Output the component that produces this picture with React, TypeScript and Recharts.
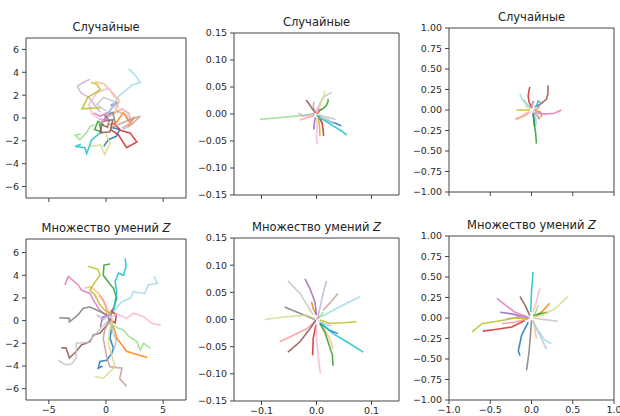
import React from 'react';
import { LineChart, Line, XAxis, YAxis, ReferenceArea } from 'recharts';

type Pt = [number, number];

// matplotlib tab20 cycle
const TAB20 = [
    '#1f77b4', '#aec7e8', '#ff7f0e', '#ffbb78', '#2ca02c', '#98df8a', '#d62728', '#ff9896', '#9467bd', '#c5b0d5',
    '#8c564b', '#c49c94', '#e377c2', '#f7b6d2', '#7f7f7f', '#c7c7c7', '#bcbd22', '#dbdb8d', '#17becf', '#9edae5',
];

const TITLE_RANDOM = 'Случайные';
const TITLE_SKILLS = 'Множество умений ';

// top-left: random policies, raw
const randomRaw: Pt[][] = [
    [[0.4, -0.8], [1.2, -1.0], [0.9, -1.6], [0.2, -1.9], [-0.2, -2.5]],
    [[0.2, 0.2], [0.9, 0.6], [1.8, 0.3], [2.2, -0.6], [1.5, -1.0]],
    [[0.3, -0.6], [0.9, -0.4], [1.5, 0.45], [2.0, -0.3], [2.5, 0.1], [1.9, -0.8]],
    [[-1.0, 3.2], [-0.2, 3.0], [0.4, 2.4], [1.2, 1.5], [0.8, 0.8], [1.6, 0.2]],
    [[-0.6, -0.5], [-0.4, -1.2], [-1.0, -1.0], [-0.7, -0.3], [-0.2, -0.6]],
    [[-1.0, -0.6], [-1.4, -0.75], [-1.7, -1.3], [-2.3, -1.9], [-2.7, -1.5], [-2.2, -1.4]],
    [[0.4, -1.0], [1.1, -1.5], [1.8, -2.6], [2.7, -2.1], [2.1, -1.3], [1.3, -1.1], [0.7, -0.5]],
    [[0.2, 0.1], [1.4, 0.8], [2.0, 0.4], [2.2, -0.4], [1.4, -0.9]],
    [[-0.3, -0.4], [0.1, 0.3], [0.6, 1.0], [1.0, 1.4], [0.4, 1.1]],
    [[-0.5, 0.5], [-1.5, 1.8], [-2.2, 2.2], [-2.5, 2.8], [-2.0, 3.1], [-1.4, 3.4]],
    [[-0.4, -0.3], [0.6, -0.15], [0.35, -1.2], [-0.5, -1.3], [-0.4, -0.6], [0.2, -0.8]],
    [[0.5, -0.8], [1.5, -0.4], [2.5, 0.0], [3.0, 0.15], [2.2, -0.6]],
    [[-1.1, 0.45], [-0.5, 0.15], [0.35, 0.6], [0.0, -0.2], [-0.6, -0.1]],
    [[-0.2, -0.3], [-1.2, 0.3], [-1.5, 1.2], [-0.8, 2.2], [0.2, 2.6], [0.8, 1.8]],
    [[0.1, -0.9], [0.3, -0.2], [-0.1, 0.2], [0.6, 0.5], [0.8, -0.4]],
    [[0.0, 0.6], [-0.8, 1.2], [-0.2, 1.8], [0.6, 1.5], [1.1, 0.9]],
    [[-0.5, 0.9], [-2.1, 0.8], [-1.6, 1.8], [-1.0, 2.15], [-0.5, 2.5], [-0.8, 2.95], [-1.3, 3.1]],
    [[-1.4, -2.5], [-0.5, -2.35], [-0.1, -3.2], [0.35, -2.2], [0.0, -1.4]],
    [[-0.5, -1.3], [-1.25, -1.9], [-1.7, -3.1], [-1.85, -2.6], [-2.7, -2.5], [-2.2, -2.3]],
    [[0.06, 0.2], [1.1, 1.9], [2.3, 2.9], [3.0, 3.1], [2.6, 3.7], [2.0, 4.3]],
];

// top-middle: random policies, small scale
const randomSmall: Pt[][] = [
    [[0.003, -0.004], [0.015, -0.01], [0.027, -0.015], [0.037, -0.018], [0.045, -0.022]],
    [[0.004, -0.002], [0.02, -0.006], [0.035, -0.01]],
    [[0.002, 0.0], [0.006, 0.007], [0.01, 0.01]],
    [[0.004, -0.003], [0.015, -0.008], [0.025, -0.012]],
    [[0.003, 0.005], [0.012, 0.01], [0.018, 0.016], [0.021, 0.023], [0.021, 0.028]],
    [[-0.003, 0.0], [-0.03, -0.003], [-0.06, -0.006], [-0.103, -0.01]],
    [[0.004, -0.006], [0.01, -0.016], [0.012, -0.028], [0.013, -0.041]],
    [[-0.004, -0.003], [-0.015, -0.006], [-0.03, -0.011]],
    [[-0.002, -0.006], [-0.004, -0.016], [-0.005, -0.029]],
    [[-0.004, 0.001], [-0.015, -0.002], [-0.025, -0.004], [-0.033, 0.002]],
    [[-0.002, 0.002], [-0.008, 0.01], [-0.013, 0.018], [-0.019, 0.026]],
    [[0.0, 0.002], [-0.006, 0.012], [-0.005, 0.022]],
    [[0.0, 0.0], [0.004, 0.006], [0.003, 0.012]],
    [[0.0, -0.008], [0.001, -0.025], [0.0, -0.04], [0.001, -0.056]],
    [[0.002, -0.003], [0.008, -0.01], [0.01, -0.018]],
    [[0.0, 0.006], [0.007, 0.022], [0.015, 0.033], [0.028, 0.04]],
    [[0.003, -0.006], [0.005, -0.02], [0.006, -0.03], [0.006, -0.041]],
    [[0.004, 0.01], [0.01, 0.025], [0.014, 0.035], [0.015, 0.043]],
    [[0.0, -0.002], [0.015, -0.012], [0.03, -0.022], [0.045, -0.031], [0.055, -0.039]],
    [[0.006, -0.005], [0.02, -0.012], [0.032, -0.018]],
];

// top-right: random policies, unit scale
const randomUnit: Pt[][] = [
    [[0.02, -0.04], [0.03, -0.12], [0.04, -0.2]],
    [[0.02, -0.03], [0.05, -0.1], [0.06, -0.18]],
    [[0.04, -0.01], [0.1, -0.02], [0.12, -0.05], [0.12, -0.09]],
    [[-0.03, -0.02], [-0.1, -0.06], [-0.18, -0.12]],
    [[0.02, -0.04], [0.03, -0.15], [0.05, -0.28], [0.06, -0.41]],
    [[-0.02, 0.03], [-0.06, 0.08], [-0.1, 0.13]],
    [[0.0, 0.03], [-0.03, 0.1], [-0.04, 0.17], [-0.03, 0.24], [-0.02, 0.28]],
    [[-0.03, -0.04], [-0.1, -0.08], [-0.2, -0.11]],
    [[0.0, 0.02], [0.01, 0.07], [0.02, 0.11]],
    [[0.0, 0.03], [0.02, 0.08], [0.03, 0.11]],
    [[0.06, 0.04], [0.12, 0.08], [0.18, 0.13], [0.2, 0.2], [0.2, 0.3]],
    [[0.03, 0.0], [0.08, 0.02], [0.1, 0.05]],
    [[0.04, -0.03], [0.16, -0.05], [0.28, -0.04], [0.36, 0.0]],
    [[0.0, -0.02], [-0.04, -0.04], [-0.08, -0.05]],
    [[0.03, -0.03], [0.07, -0.07], [0.1, -0.11]],
    [[0.02, -0.01], [0.06, -0.05], [0.09, -0.08]],
    [[-0.02, 0.0], [-0.1, 0.0], [-0.18, 0.0]],
    [[-0.01, 0.01], [-0.05, 0.03], [-0.08, 0.06]],
    [[0.04, 0.03], [0.07, 0.07], [0.08, 0.11], [0.11, 0.09]],
    [[-0.03, 0.04], [-0.08, 0.09], [-0.12, 0.14], [-0.14, 0.2]],
];

// bottom-left: skill set Z, raw
const skillsRaw: Pt[][] = [
    [[0.2, 0.3], [0.5, -0.6], [0.35, -1.56], [0.65, -2.44], [0.5, -2.9], [0.06, -3.5], [-0.53, -3.6], [-0.68, -4.2], [-0.3, -4.0]],
    [[0.35, -0.2], [0.6, -1.0], [0.9, -1.8], [0.7, -2.5]],
    [[0.3, 0.3], [0.8, -0.97], [0.94, -1.56], [1.4, -2.15], [1.8, -2.7], [2.4, -2.9], [3.6, -3.26]],
    [[0.3, 0.6], [0.1, 1.1], [-0.24, 1.8], [-0.53, 2.26], [-0.97, 2.7], [-1.4, 3.0], [-1.85, 2.85]],
    [[0.4, 0.4], [0.7, 1.2], [0.94, 2.0], [0.65, 2.85], [0.2, 3.4], [-0.24, 4.0], [-0.18, 4.9], [0.35, 5.0]],
    [[0.2, 0.1], [0.6, -0.4], [1.1, -0.68], [1.5, -0.82], [2.0, -1.4], [2.7, -1.85], [3.0, -2.6], [3.3, -2.0], [3.9, -2.44]],
    [[0.35, 0.1], [0.8, -0.2], [0.9, 0.5], [0.4, 0.9]],
    [[-0.6, 2.2], [-0.3, 1.9], [0.0, 1.2], [0.1, 0.3]],
    [[-0.5, -0.6], [-0.3, 0.3], [0.35, 0.5], [0.65, 1.1]],
    [[-0.8, 0.5], [-0.2, 0.1], [0.35, 0.7], [0.5, -0.3]],
    [[0.4, 0.2], [0.0, -0.5], [-0.53, -1.1], [-1.1, -1.26], [-1.4, -1.85], [-2.15, -2.15], [-2.6, -2.7], [-3.2, -3.3], [-3.5, -2.4], [-3.9, -2.4]],
    [[0.3, 0.0], [-0.1, -0.8], [-0.24, -1.56], [0.06, -3.2], [0.35, -4.06], [1.4, -4.2], [1.2, -5.1], [1.8, -5.8]],
    [[0.2, 0.3], [-0.6, 1.0], [-1.1, 1.8], [-1.4, 2.4], [-2.15, 2.7], [-2.44, 3.15], [-3.3, 3.9], [-3.6, 3.15]],
    [[0.3, 0.2], [1.0, 0.6], [1.8, 0.2], [2.4, 0.65], [3.3, 0.35], [4.0, -0.24], [4.8, -0.4]],
    [[0.1, 0.5], [-0.82, 0.94], [-1.4, 1.2], [-2.0, 1.1], [-2.44, 0.5], [-3.2, -0.1], [-3.2, 0.2], [-4.1, 0.26]],
    [[0.2, 0.0], [-0.4, -0.6], [-1.0, -1.3], [-1.6, -1.9], [-2.6, -2.0], [-2.6, -3.3], [-3.0, -3.8], [-3.5, -3.9], [-4.2, -3.5]],
    [[0.5, 0.6], [-0.1, 0.9], [-0.53, 1.4], [-0.97, 2.26], [-1.4, 2.7], [-0.97, 3.4], [-0.53, 4.0], [-0.68, 4.5], [-1.56, 4.8]],
    [[0.6, 0.2], [0.3, -0.9], [0.2, -2.0], [0.8, -4.06], [0.35, -4.5], [-0.24, -5.1], [-0.97, -4.9]],
    [[0.65, 0.8], [0.8, 1.68], [0.94, 2.56], [0.8, 3.45], [1.1, 4.2], [1.53, 4.0], [1.76, 4.8], [1.68, 5.5]],
    [[0.65, 0.8], [1.4, 1.68], [2.1, 1.97], [2.4, 2.56], [3.4, 2.4], [3.7, 3.15], [4.5, 3.3], [4.2, 3.9]],
];

// bottom-middle: skill set Z, small scale
const skillsSmall: Pt[][] = [
    [[0.006, -0.007], [0.024, -0.02], [0.039, -0.026]],
    [[0.003, -0.003], [0.015, -0.008], [0.027, -0.012]],
    [[0.0, 0.008], [-0.006, 0.02], [-0.009, 0.033]],
    [[0.012, -0.014], [0.024, -0.035], [0.03, -0.054]],
    [[0.006, -0.007], [0.015, -0.023], [0.021, -0.041], [0.029, -0.066], [0.03, -0.085]],
    [[0.003, 0.002], [0.009, 0.008], [0.012, 0.014]],
    [[-0.001, -0.01], [-0.006, -0.035], [-0.007, -0.066]],
    [[-0.003, -0.004], [-0.018, -0.017], [-0.042, -0.029], [-0.067, -0.041]],
    [[0.0, 0.008], [-0.003, 0.033], [-0.012, 0.057], [-0.021, 0.075]],
    [[0.003, 0.005], [0.006, 0.02], [0.012, 0.048], [0.018, 0.071]],
    [[-0.001, -0.001], [-0.012, -0.017], [-0.03, -0.041], [-0.052, -0.06]],
    [[0.012, 0.017], [0.027, 0.033], [0.039, 0.048]],
    [[0.0, 0.0], [0.003, 0.004], [0.005, 0.005]],
    [[0.0, -0.007], [0.0, -0.035], [0.003, -0.066], [0.007, -0.1]],
    [[-0.003, 0.0], [-0.015, 0.005], [-0.036, 0.014], [-0.058, 0.023]],
    [[-0.006, 0.008], [-0.03, 0.048], [-0.052, 0.071]],
    [[0.006, -0.001], [0.024, -0.007], [0.048, -0.006], [0.073, -0.004]],
    [[-0.003, 0.002], [-0.018, 0.008], [-0.055, 0.005], [-0.094, 0.0]],
    [[0.009, -0.007], [0.03, -0.026], [0.055, -0.041], [0.085, -0.06]],
    [[0.009, 0.005], [0.03, 0.017], [0.055, 0.03], [0.079, 0.042]],
];

// bottom-right: skill set Z, unit scale
const skillsUnit: Pt[][] = [
    [[-0.04, -0.05], [-0.12, -0.21], [-0.16, -0.4], [-0.14, -0.46]],
    [[0.02, -0.03], [0.06, -0.13], [0.12, -0.25], [0.18, -0.38]],
    [[0.06, 0.03], [0.14, 0.09], [0.22, 0.18]],
    [[0.02, -0.03], [0.04, -0.13], [0.06, -0.25]],
    [[0.02, 0.03], [0.1, 0.05], [0.2, 0.07]],
    [[0.03, 0.04], [0.06, 0.09], [0.08, 0.16]],
    [[-0.08, -0.03], [-0.24, -0.11], [-0.44, -0.14], [-0.59, -0.16]],
    [[-0.04, -0.01], [-0.2, -0.05], [-0.36, -0.07]],
    [[-0.08, 0.01], [-0.24, 0.05], [-0.38, 0.07]],
    [[-0.04, 0.0], [-0.16, 0.01], [-0.3, -0.01]],
    [[-0.02, 0.03], [-0.08, 0.16], [-0.14, 0.26]],
    [[-0.02, 0.0], [-0.1, 0.02], [-0.18, 0.01]],
    [[-0.04, 0.01], [-0.2, 0.07], [-0.32, 0.16], [-0.42, 0.24]],
    [[0.02, 0.07], [0.06, 0.2], [0.1, 0.36]],
    [[0.0, -0.03], [-0.01, -0.17], [-0.03, -0.42], [-0.06, -0.64]],
    [[0.02, 0.0], [0.16, -0.02], [0.32, -0.04]],
    [[-0.04, -0.01], [-0.2, 0.0], [-0.36, -0.03], [-0.6, -0.07], [-0.72, -0.17]],
    [[0.02, 0.01], [0.12, 0.03], [0.28, 0.11], [0.44, 0.26]],
    [[-0.01, 0.07], [0.0, 0.32], [0.02, 0.56]],
    [[0.02, -0.05], [0.08, -0.15], [0.16, -0.27], [0.24, -0.31]],
];

const TICKS_7 = [-6, -4, -2, 0, 2, 4, 6];
const TICKS_7X = [-5, 0, 5];
const TICKS_15 = [-0.15, -0.1, -0.05, 0, 0.05, 0.1, 0.15];
const TICKS_15X = [-0.1, 0, 0.1];
const TICKS_1 = [-1, -0.75, -0.5, -0.25, 0, 0.25, 0.5, 0.75, 1];
const TICKS_1X = [-1, -0.5, 0, 0.5, 1];

const minus = (s: string) => (s.startsWith('-') ? '\u2212' + s.slice(1) : s);
const fmt = (digits: number) => (v: number) => minus(Math.abs(v) < 1e-9 ? (0).toFixed(digits) : v.toFixed(digits));

interface PanelProps {
    title: string;
    italicZ?: boolean;
    series: Pt[][];
    box: { x: number; y: number; w: number; h: number };
    xDomain: [number, number];
    yDomain: [number, number];
    xTicks: number[];
    yTicks: number[];
    xFmt: (v: number) => string;
    yFmt: (v: number) => string;
    showXLabels: boolean;
}

const ML = 45;
const MT = 6;
const MR = 10;
const MB = 22;
const AXIS = '#444';
const TEXT = '#2a2a2a';
const FONT = 'DejaVu Sans, sans-serif';

const Panel: React.FC<PanelProps> = ({ title, italicZ, series, box, xDomain, yDomain, xTicks, yTicks, xFmt, yFmt, showXLabels }) => (
    <>
        <div
            style={{
                position: 'absolute',
                left: box.x,
                top: box.y - 18,
                width: box.w,
                height: 14,
                lineHeight: '14px',
                textAlign: 'center',
                fontSize: 11.5,
                color: '#222',
                fontFamily: FONT,
                whiteSpace: 'nowrap',
            }}
        >
            {title}
            {italicZ && <i>Z</i>}
        </div>
        <div style={{ position: 'absolute', left: box.x - ML, top: box.y - MT }}>
            <LineChart width={box.w + ML + MR} height={box.h + MT + MB} margin={{ top: MT, right: MR, left: 0, bottom: 0 }}>
                <XAxis
                    dataKey="x"
                    type="number"
                    domain={xDomain}
                    ticks={xTicks}
                    allowDataOverflow
                    height={MB}
                    axisLine={false}
                    tickSize={4}
                    tickMargin={2}
                    tickLine={{ stroke: AXIS }}
                    tick={{ fontSize: 9.5, fill: TEXT, fontFamily: FONT }}
                    tickFormatter={showXLabels ? xFmt : () => ''}
                    interval={0}
                />
                <YAxis
                    dataKey="y"
                    type="number"
                    domain={yDomain}
                    ticks={yTicks}
                    allowDataOverflow
                    width={ML}
                    axisLine={false}
                    tickSize={4}
                    tickMargin={3}
                    tickLine={{ stroke: AXIS }}
                    tick={{ fontSize: 9.5, fill: TEXT, fontFamily: FONT }}
                    tickFormatter={yFmt}
                    interval={0}
                />
                {series.map((traj, i) => (
                    <Line
                        key={i}
                        data={traj.map(([x, y]) => ({ x, y }))}
                        dataKey="y"
                        type="linear"
                        stroke={TAB20[i % TAB20.length]}
                        strokeWidth={1.6}
                        strokeOpacity={0.85}
                        dot={false}
                        activeDot={false}
                        isAnimationActive={false}
                    />
                ))}
                <ReferenceArea x1={xDomain[0]} x2={xDomain[1]} y1={yDomain[0]} y2={yDomain[1]} fill="none" stroke={AXIS} strokeWidth={1} ifOverflow="visible" />
            </LineChart>
        </div>
    </>
);

export default function App() {
    return (
        <div style={{ position: 'absolute', left: 0, top: 0, width: 620, height: 416, background: '#fff', overflow: 'hidden' }}>
            <Panel title={TITLE_RANDOM} series={randomRaw} box={{ x: 26, y: 38, w: 160, h: 160 }} xDomain={[-7, 7]} yDomain={[-7, 7]}
                xTicks={TICKS_7X} yTicks={TICKS_7} xFmt={fmt(0)} yFmt={fmt(0)} showXLabels={false} />
            <Panel title={TITLE_RANDOM} series={randomSmall} box={{ x: 234, y: 33, w: 165, h: 162 }} xDomain={[-0.15, 0.15]} yDomain={[-0.15, 0.15]}
                xTicks={TICKS_15X} yTicks={TICKS_15} xFmt={fmt(1)} yFmt={fmt(2)} showXLabels={false} />
            <Panel title={TITLE_RANDOM} series={randomUnit} box={{ x: 449, y: 28, w: 165, h: 164 }} xDomain={[-1, 1]} yDomain={[-1, 1]}
                xTicks={TICKS_1X} yTicks={TICKS_1} xFmt={fmt(1)} yFmt={fmt(2)} showXLabels={false} />
            <Panel title={TITLE_SKILLS} italicZ series={skillsRaw} box={{ x: 26, y: 239, w: 160, h: 161 }} xDomain={[-7, 7]} yDomain={[-7, 7.2]}
                xTicks={TICKS_7X} yTicks={TICKS_7} xFmt={fmt(0)} yFmt={fmt(0)} showXLabels />
            <Panel title={TITLE_SKILLS} italicZ series={skillsSmall} box={{ x: 234, y: 238, w: 165, h: 163 }} xDomain={[-0.15, 0.15]} yDomain={[-0.15, 0.15]}
                xTicks={TICKS_15X} yTicks={TICKS_15} xFmt={fmt(1)} yFmt={fmt(2)} showXLabels />
            <Panel title={TITLE_SKILLS} italicZ series={skillsUnit} box={{ x: 449, y: 236, w: 165, h: 164 }} xDomain={[-1, 1]} yDomain={[-1, 1]}
                xTicks={TICKS_1X} yTicks={TICKS_1} xFmt={fmt(1)} yFmt={fmt(2)} showXLabels />
        </div>
    );
}
